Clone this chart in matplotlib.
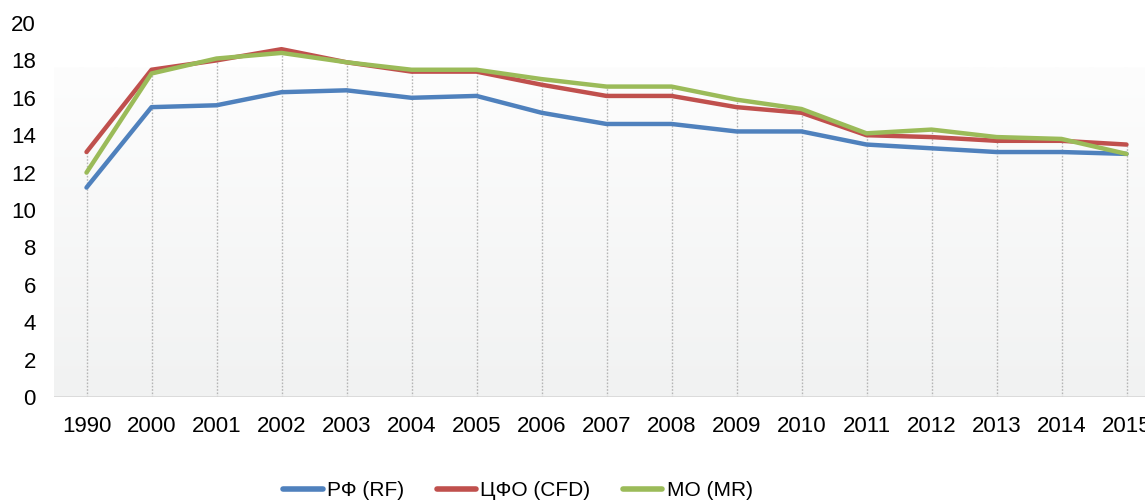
import numpy as np
import matplotlib
matplotlib.use("Agg")
import matplotlib.pyplot as plt
from matplotlib.colors import LinearSegmentedColormap

years = ["1990", "2000", "2001", "2002", "2003", "2004", "2005", "2006",
         "2007", "2008", "2009", "2010", "2011", "2012", "2013", "2014", "2015"]
rf = [11.2, 15.5, 15.6, 16.3, 16.4, 16.0, 16.1, 15.2, 14.6, 14.6, 14.2, 14.2,
      13.5, 13.3, 13.1, 13.1, 13.0]
cfd = [13.1, 17.5, 18.0, 18.6, 17.9, 17.4, 17.4, 16.7, 16.1, 16.1, 15.5, 15.2,
       14.0, 13.9, 13.7, 13.7, 13.5]
mr = [12.0, 17.3, 18.1, 18.4, 17.9, 17.5, 17.5, 17.0, 16.6, 16.6, 15.9, 15.4,
      14.1, 14.3, 13.9, 13.8, 13.0]

labels = ["РФ (RF)", "ЦФО (CFD)", "МО (MR)"]
colors = ["#4F81BD", "#C0504D", "#9BBB59"]

plt.rcParams["font.family"] = ["Liberation Sans", "DejaVu Sans"]

W, H = 1145, 503
fig = plt.figure(figsize=(W / 100, H / 100), dpi=100)
n = len(years)
px_per_cat = 65.0
left = 54
ax = fig.add_axes([left / W, 1 - 397 / H, n * px_per_cat / W, (397 - 23) / H])
x = np.arange(n)
ax.set_xlim(-0.5, n - 0.5)
ax.set_ylim(0, 20)

# background gradient
cmap = LinearSegmentedColormap.from_list("bg", ["#f1f2f2", "#fdfdfd"])
grad = np.linspace(0, 1, 256).reshape(-1, 1)
ax.imshow(grad, aspect="auto", cmap=cmap, origin="lower",
          extent=[0, 1, 0, 0.882], transform=ax.transAxes, zorder=0)

# drop lines
tops = np.maximum(np.maximum(rf, cfd), mr)
ax.vlines(x, 0, tops, colors="#b5b5b5", linestyles=(0, (1.2, 1.2)),
          linewidth=1.0, zorder=1)
ax.axhline(0, color="#d9d9d9", linewidth=2, zorder=2)

for vals, lab, col in zip([rf, cfd, mr], labels, colors):
    ax.plot(x, vals, color=col, linewidth=3.2, label=lab, zorder=3,
            solid_capstyle="round", solid_joinstyle="round")

for s in ax.spines.values():
    s.set_visible(False)
ax.set_xticks(x)
ax.set_xticklabels(years)
ax.set_yticks(range(0, 21, 2))
ax.tick_params(axis="both", length=0, labelsize=16, colors="#000000")
ax.tick_params(axis="y", pad=13)
ax.tick_params(axis="x", pad=14)

leg = fig.legend(loc="center", bbox_to_anchor=(518 / W, 1 - 491 / H), ncol=3,
                 frameon=False, handlelength=1.9, handletextpad=0.2,
                 columnspacing=1.55, fontsize=15)
for h in leg.get_lines():
    h.set_linewidth(4)

plt.savefig("out.png", dpi=100)
plt.close()
